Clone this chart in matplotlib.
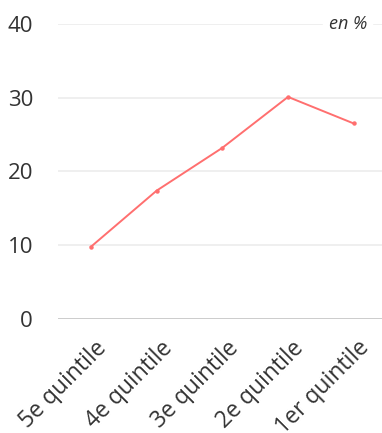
import matplotlib
matplotlib.use("Agg")
from matplotlib import pyplot as plt
from matplotlib import transforms

categories = ["5e quintile", "4e quintile", "3e quintile", "2e quintile", "1er quintile"]
values = [9.8, 17.4, 23.2, 30.1, 26.5]
yticks = [0, 10, 20, 30, 40]

plt.rcParams["font.family"] = ["Open Sans", "DejaVu Sans"]

fig = plt.figure(figsize=(3.82, 4.33), dpi=100)
ax = fig.add_axes([0.152, 0.263, 0.86, 0.682])

x = list(range(len(categories)))
ax.plot(x, values, color="#ff6f6f", linewidth=1.4, marker="o", markersize=2.2, zorder=3)

ax.set_ylim(0, 40)
ax.set_xlim(-0.5, 4.5)
ax.set_yticks(yticks)
ax.set_yticklabels([str(t) for t in yticks], fontsize=16, color="#333333")
ax.set_xticks(x)
ax.set_xticklabels([])

# rotated category labels, offset a bit right/down from each tick
label_tr = transforms.offset_copy(ax.get_xaxis_transform(), fig=fig, x=4, y=-17, units="dots")
for xi, name in zip(x, categories):
    ax.text(xi, 0, name, transform=label_tr, rotation=45, rotation_mode="anchor",
            ha="right", va="top", fontsize=16.5, color="#333333", clip_on=False)

ax.tick_params(axis="both", length=0)
ax.tick_params(axis="y", pad=18)
for s in ax.spines.values():
    s.set_visible(False)

for t in yticks[1:]:
    ax.axhline(t, color="#ececec", linewidth=1.2, zorder=1)
ax.axhline(0, color="#cccccc", linewidth=1.4, zorder=1)

ax.text(4.2, 40, "en %", ha="right", va="center", fontsize=13, style="italic",
        color="#333333", backgroundcolor="white", zorder=2)

fig.savefig("out.png", dpi=100)
